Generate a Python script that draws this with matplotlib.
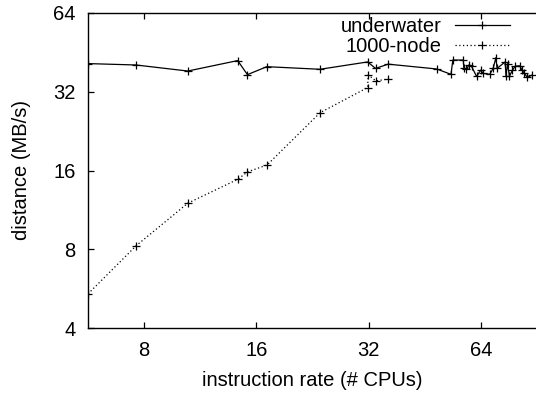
import numpy as np
import matplotlib
matplotlib.use("Agg")
import matplotlib.pyplot as plt

plt.rcParams['font.family'] = ['Liberation Sans', 'DejaVu Sans']

# underwater (solid)
uw_x = [5.66, 7.61, 10.48, 14.26, 15.14, 17.07, 23.7, 31.8, 33.4, 36.1, 48.7,
        53.2, 53.8, 57.4, 57.6, 58.5, 59.5, 60.4, 62.3, 63.9, 64.9, 67.6,
        69.0, 70.2, 70.7, 74.3, 74.7, 75.4, 76.3, 77.7, 79.1, 81.3, 82.5,
        83.6, 85.2, 87.5]
uw_y = [41.0, 40.5, 38.4, 42.1, 37.2, 39.9, 39.0, 41.6, 39.3, 40.8, 39.1,
        37.3, 42.3, 42.3, 39.3, 39.0, 40.6, 40.0, 36.6, 38.7, 37.6, 37.3,
        39.3, 43.2, 39.3, 41.6, 36.7, 41.0, 36.7, 38.6, 40.1, 40.2, 38.7,
        37.7, 36.3, 37.0]

# 1000-node (dotted)
nd_x = [5.66, 7.61, 10.48, 14.26, 15.14, 17.1, 23.7, 31.8, 31.9, 33.5, 36.1]
nd_y = [5.40, 8.24, 12.0, 14.8, 15.8, 16.8, 26.6, 33.2, 37.1, 35.2, 35.8]

xticks = [8, 16, 32, 64]
yticks = [4, 8, 16, 32, 64]

fig = plt.figure(figsize=(5.36, 3.94), dpi=100)
ax = fig.add_axes([88/536, 1 - 328/394, 1 - 88/536, (328 - 13)/394])

ax.plot(uw_x, uw_y, color='black', lw=0.9, marker='+', ms=6, mew=0.9,
        label='underwater')
ax.plot(nd_x, nd_y, color='black', lw=0.9, ls=(0, (1, 2)), marker='+',
        ms=6, mew=0.9, label='1000-node')

ax.set_xscale('log', base=2)
ax.set_yscale('log', base=2)
ax.set_xlim(5.66, 89.9)
ax.set_ylim(4, 64)
ax.set_xticks(xticks)
ax.set_xticklabels([str(t) for t in xticks])
ax.set_yticks(yticks)
ax.set_yticklabels([str(t) for t in yticks])
ax.minorticks_off()
ax.tick_params(direction='in', length=4, width=0.9, labelsize=14.5,
               top=True, right=False)
ax.tick_params(axis='x', pad=9)
ax.tick_params(axis='y', pad=9)
ax.spines['right'].set_visible(False)
for s in ['left', 'top', 'bottom']:
    ax.spines[s].set_linewidth(1.0)

ax.set_xlabel('instruction rate (# CPUs)', fontsize=14.5, labelpad=8)
ax.set_ylabel('distance (MB/s)', fontsize=14.5, labelpad=16)

ax.legend(loc='upper right', bbox_to_anchor=(0.951, 1.0), frameon=False,
          fontsize=14.5, markerfirst=False, handlelength=2.75,
          handletextpad=0.65, borderaxespad=0.1, borderpad=0.1,
          labelspacing=0.05)

fig.savefig('out.png', dpi=100)
